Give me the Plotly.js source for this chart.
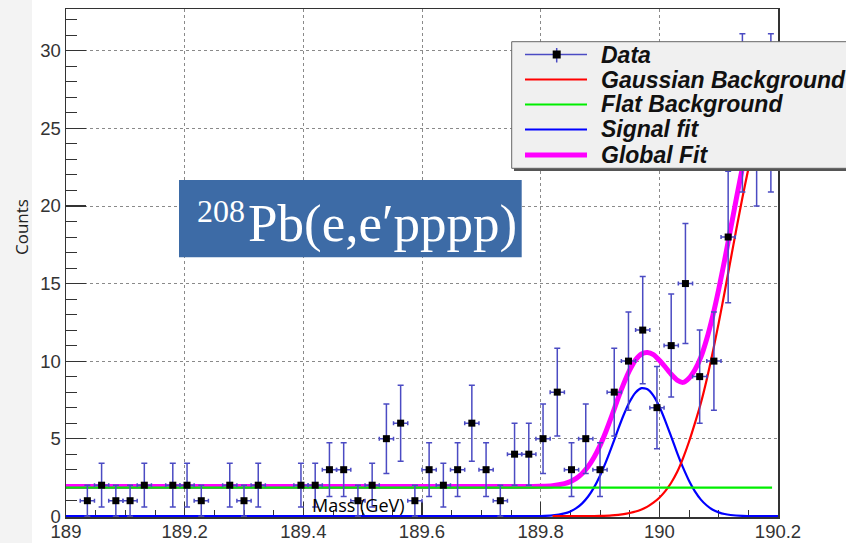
<!DOCTYPE html>
<html>
<head>
<meta charset="utf-8">
<script src="https://cdn.plot.ly/plotly-3.0.1.min.js"></script>
<style>html,body{margin:0;padding:0;background:#fff;}#chart{width:846px;height:543px;}</style>
</head>
<body>
<div id="chart"></div>
<script>
// ---- Data ----
const binCenters = [189.036,189.060,189.084,189.108,189.132,189.180,189.204,189.228,189.276,189.300,189.324,
  189.396,189.420,189.444,189.468,189.492,189.516,189.540,189.564,189.588,189.612,189.636,189.660,189.684,
  189.708,189.732,189.756,189.780,189.804,189.828,189.852,189.876,189.900,189.924,189.948,189.972,189.996,
  190.020,190.044,190.068,190.092,190.116,190.140,190.164,190.188];
const counts = [1,2,1,1,2,2,2,1,2,1,2,
  2,2,3,3,1,2,5,6,1,3,2,3,6,
  3,1,4,4,5,8,3,5,3,8,10,12,7,
  11,15,9,10,18,26,25,26];
const countErrors = [1,1.41,1,1,1.41,1.41,1.41,1,1.41,1,1.41,
  1.41,1.41,1.73,1.73,1,1.41,2.24,2.45,1,1.73,1.41,1.73,2.45,
  1.73,1,2,2,2.24,2.83,1.73,2.24,1.73,2.83,3.16,3.46,2.65,
  3.32,3.87,3,3.16,4.24,5.1,5,5.1];
const binHalfWidth = 0.012;

const flatX = [189.0, 190.19];
const flatY = [1.85, 1.85];

const gausBgX = [189.82,189.84,189.86,189.88,189.90,189.92,189.94,189.95,189.96,189.97,189.98,189.99,
  190.00,190.01,190.02,190.03,190.04,190.05,190.06,190.07,190.08,190.09,190.10,190.11,190.12,190.13,
  190.14,190.15,190.16,190.17,190.18,190.19,190.20];
const gausBgY = [0,0.001,0.003,0.009,0.024,0.06,0.14,0.21,0.30,0.44,0.62,0.87,
  1.19,1.62,2.16,2.85,3.75,4.8,6.0,7.3,8.83,10.57,12.45,14.44,16.50,18.55,
  20.53,22.38,24.00,25.35,26.36,26.99,27.20];

const signalX = [189.0,189.76,189.78,189.80,189.82,189.84,189.85,189.86,189.87,189.88,189.89,189.90,
  189.91,189.92,189.93,189.94,189.95,189.96,189.97,189.98,189.99,190.00,190.01,190.02,190.03,190.04,
  190.05,190.06,190.07,190.08,190.09,190.10,190.11,190.12,190.14,190.16,190.20];
const signalY = [0,0,0.003,0.01,0.05,0.18,0.31,0.52,0.83,1.27,1.86,2.61,
  3.50,4.50,5.55,6.54,7.38,7.98,8.26,8.19,7.78,7.07,6.15,5.13,4.09,3.13,
  2.29,1.60,1.07,0.69,0.42,0.25,0.14,0.08,0.02,0,0];

const globalX = [189.0,189.76,189.78,189.80,189.82,189.84,189.85,189.86,189.87,189.88,189.89,189.90,
  189.91,189.92,189.93,189.94,189.95,189.96,189.97,189.98,189.99,190.00,190.01,190.02,190.03,190.04,
  190.05,190.06,190.07,190.08,190.09,190.10,190.11,190.12,190.13,190.14,190.15,190.16,190.17,190.18,190.19,190.20];
const globalY = [1.92,1.92,1.92,1.93,1.97,2.10,2.23,2.44,2.76,3.20,3.80,4.55,
  5.46,6.48,7.56,8.55,9.42,10.08,10.46,10.55,10.42,10.06,9.62,9.15,8.78,8.63,
  8.90,9.45,10.26,11.44,12.91,14.62,16.50,18.50,20.51,22.47,24.31,25.92,27.27,28.28,28.91,29.12];

const xTickVals = [189, 189.2, 189.4, 189.6, 189.8, 190, 190.2];
const legendLabels = ['Data', 'Gaussian Background', 'Flat Background', 'Signal fit', 'Global Fit'];
const legendColors = ['#4b4bc3', '#ff0000', '#00ee00', '#0000ff', '#ff00ff'];

// ---- Layout helpers (plot area: 66..778 px wide, 9..517 px tall) ----
const L = 66, R = 778, T = 9, B = 517;
const px = v => (v - L) / (R - L);
const py = v => (B - v) / (B - T);

const errColor = '#4b4bc3';

const traces = [
  {x: globalX, y: globalY, mode: 'lines', line: {color: '#ff00ff', width: 5, shape: 'spline', smoothing: 0.6}, hoverinfo: 'skip'},
  {x: signalX, y: signalY, mode: 'lines', line: {color: '#0000ff', width: 2.2, shape: 'spline', smoothing: 0.6}, hoverinfo: 'skip'},
  {x: gausBgX, y: gausBgY, mode: 'lines', line: {color: '#ff0000', width: 2.2, shape: 'spline', smoothing: 0.6}, hoverinfo: 'skip'},
  {x: flatX, y: flatY, mode: 'lines', line: {color: '#00ee00', width: 2.2}, hoverinfo: 'skip'},
  {x: binCenters, y: counts, mode: 'markers', type: 'scatter',
   marker: {symbol: 'square', size: 7, color: '#000'},
   error_y: {type: 'data', array: countErrors, visible: true, color: errColor, thickness: 1.5, width: 3},
   error_x: {type: 'constant', value: binHalfWidth, visible: true, color: errColor, thickness: 1.5, width: 2}}
];

const shapes = [
  // light slide strip at the left
  {type: 'rect', xref: 'paper', yref: 'paper', x0: px(0), x1: px(32), y0: py(545), y1: py(-2),
   fillcolor: '#f3f3f3', line: {width: 0}, layer: 'below'},
  // label box
  {type: 'rect', xref: 'paper', yref: 'paper', x0: px(179), x1: px(521.7), y0: py(257.3), y1: py(180),
   fillcolor: '#3d6ba6', line: {width: 0}, layer: 'above'},
  // legend shadow and box
  {type: 'rect', xref: 'paper', yref: 'paper', x0: px(514), x1: px(852), y0: py(171), y1: py(44.5),
   fillcolor: '#555', line: {width: 0}, layer: 'above'},
  {type: 'rect', xref: 'paper', yref: 'paper', x0: px(511.7), x1: px(850), y0: py(168.3), y1: py(41.7),
   fillcolor: '#f0f0f0', line: {color: '#666', width: 1}, layer: 'above'}
];
const rowLineY = [54.5, 79.5, 104.5, 129.5, 155];
const rowTextY = [55, 80, 104, 129, 155];
const lineWidths = [1.5, 2.2, 2.2, 2.2, 5];
for (let i = 0; i < legendLabels.length; i++) {
  shapes.push({type: 'line', xref: 'paper', yref: 'paper', x0: px(525), x1: px(587), y0: py(rowLineY[i]), y1: py(rowLineY[i]),
    line: {color: legendColors[i], width: lineWidths[i]}, layer: 'above'});
}
shapes.push({type: 'line', xref: 'paper', yref: 'paper', x0: px(556.7), x1: px(556.7), y0: py(62.5), y1: py(48),
  line: {color: errColor, width: 1.5}, layer: 'above'});
shapes.push({type: 'rect', xref: 'paper', yref: 'paper', x0: px(552.7), x1: px(560.7), y0: py(58.5), y1: py(50.5),
  fillcolor: '#000', line: {width: 0}, layer: 'above'});

const annotations = [
  {xref: 'paper', yref: 'paper', x: px(247), y: py(211), xanchor: 'right', yanchor: 'middle', showarrow: false,
   text: '208', font: {family: 'Liberation Serif', size: 32, color: '#fff'}},
  {xref: 'paper', yref: 'paper', x: px(246), y: py(223), xanchor: 'left', yanchor: 'middle', showarrow: false,
   text: 'Pb(e,e\u2032pppp)', font: {family: 'Liberation Serif', size: 53, color: '#fff'}},
  {xref: 'paper', yref: 'paper', x: px(358), y: py(505), xanchor: 'center', yanchor: 'middle', showarrow: false,
   text: 'Mass (GeV)', font: {family: 'Open Sans', size: 18, color: '#000'}},
  {xref: 'paper', yref: 'paper', x: px(21), y: py(227), xanchor: 'center', yanchor: 'middle', showarrow: false,
   textangle: -90, text: 'Counts', font: {family: 'Open Sans', size: 17, color: '#222'}}
];
for (let i = 0; i < legendLabels.length; i++) {
  annotations.push({xref: 'paper', yref: 'paper', x: px(599), y: py(rowTextY[i]), xanchor: 'left', yanchor: 'middle',
    showarrow: false, text: '<b><i>' + legendLabels[i] + '</i></b>',
    font: {family: 'Liberation Sans', size: 23, color: '#111'}});
}

const tickFont = {family: 'Liberation Sans', size: 18.5, color: '#333'};
const layout = {
  width: 846, height: 543,
  margin: {l: L, r: 846 - R, t: T, b: 543 - B, pad: 0},
  paper_bgcolor: '#fff', plot_bgcolor: '#fff',
  showlegend: false,
  font: {family: 'Liberation Sans'},
  xaxis: {range: [189, 190.2], tickvals: xTickVals, ticktext: xTickVals.map(String),
    ticks: 'inside', ticklen: 15, tickwidth: 1.2, tickcolor: '#333', ticklabelstandoff: -3,
    minor: {dtick: 0.05, tick0: 189, ticks: 'inside', ticklen: 7.5, tickwidth: 1, tickcolor: '#333', showgrid: false},
    showgrid: true, gridcolor: '#8a8a8a', griddash: 'dot', gridwidth: 1,
    showline: true, mirror: true, linecolor: '#333', linewidth: 1.5, zeroline: false,
    tickfont: tickFont, layer: 'below traces', fixedrange: true},
  yaxis: {range: [-0.05, 32.7], tick0: 0, dtick: 5,
    ticks: 'inside', ticklen: 20, tickwidth: 1.2, tickcolor: '#333',
    minor: {dtick: 1, tick0: 0, ticks: 'inside', ticklen: 11, tickwidth: 1, tickcolor: '#333', showgrid: false},
    showgrid: true, gridcolor: '#8a8a8a', griddash: 'dot', gridwidth: 1,
    showline: true, mirror: true, linecolor: '#333', linewidth: 1.5, zeroline: false,
    tickfont: tickFont, layer: 'below traces', fixedrange: true},
  shapes: shapes,
  annotations: annotations
};

Plotly.newPlot('chart', traces, layout, {staticPlot: true, displayModeBar: false});
</script>
</body>
</html>
